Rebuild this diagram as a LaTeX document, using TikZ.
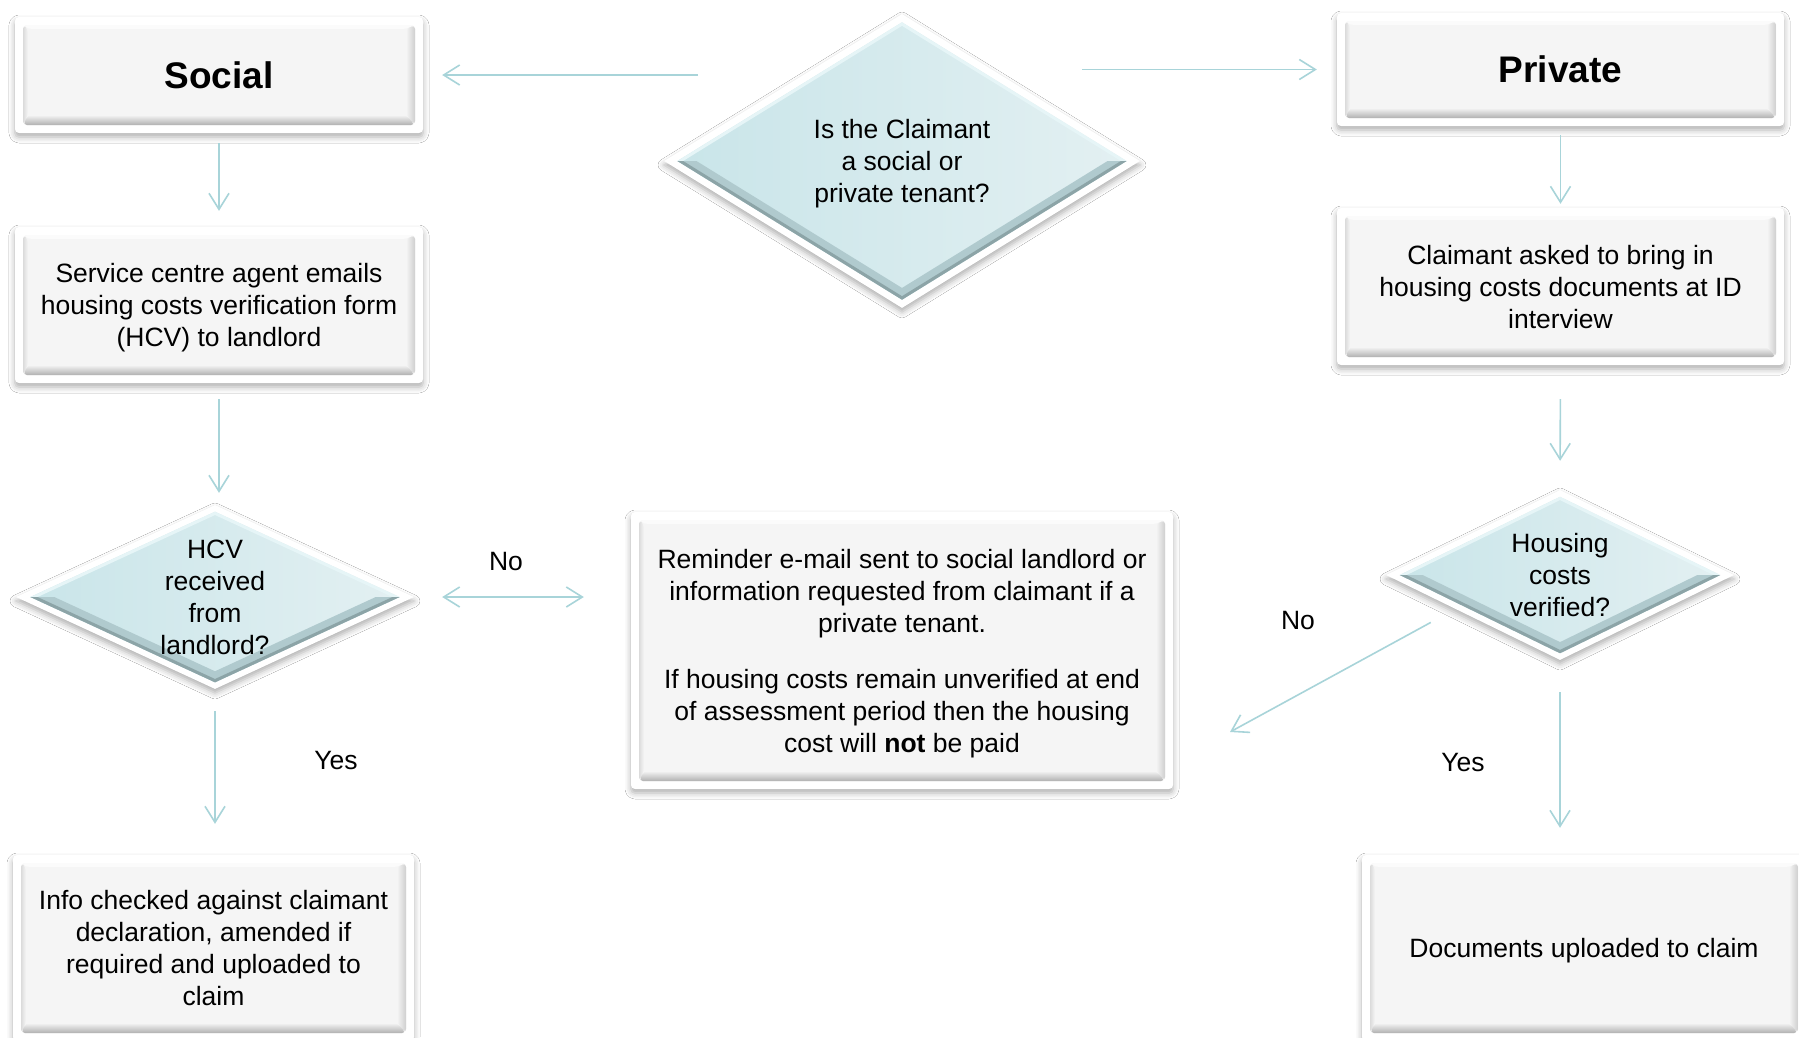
\documentclass[tikz,border=0pt]{standalone}
\usepackage{fontspec}
\setmainfont{Liberation Sans}
\usetikzlibrary{shapes.geometric,arrows.meta,shadows.blur,calc}
\definecolor{boxgray}{HTML}{F5F5F5}
\definecolor{boxtop}{HTML}{FBFBFB}
\definecolor{arrowc}{HTML}{A8D4D9}
\definecolor{diamL}{HTML}{C9E5E9}
\definecolor{diamR}{HTML}{E3F0F2}
\definecolor{bevdark}{HTML}{8CA4A7}
\definecolor{bevmid}{HTML}{B0CACE}
\definecolor{bevlight}{HTML}{E6F5F7}
\def\pp{path picture bounding box}
\tikzset{
  every node/.style={font=\fontsize{26.5}{32}\selectfont, inner sep=0pt, align=center, text=black, text depth=0pt},
  >={Straight Barb[length=16pt,width=20pt]},
  arr/.style={draw=arrowc, line width=1.6pt, ->},
  darr/.style={draw=arrowc, line width=1.6pt, <->},
  gbox/.style={rectangle, rounded corners=4pt, fill=white,
    blur shadow={shadow xshift=0pt, shadow yshift=-4pt, shadow blur radius=6pt, shadow opacity=32},
    path picture={
      \coordinate (bNW) at ([xshift=8pt,yshift=-8pt]\pp.north west);
      \coordinate (bNE) at ([xshift=-8pt,yshift=-8pt]\pp.north east);
      \coordinate (bSW) at ([xshift=8pt,yshift=8pt]\pp.south west);
      \coordinate (bSE) at ([xshift=-8pt,yshift=8pt]\pp.south east);
      \fill[boxgray] (bNW) rectangle (bSE);
      \fill[boxtop] (bNW) -- (bNE) -- ([xshift=-9pt,yshift=-4pt]bNE) -- ([xshift=5pt,yshift=-4pt]bNW) -- cycle;
      \shade[left color=gray!28, right color=boxgray] (bSW) -- (bNW) -- ([xshift=5pt,yshift=-4pt]bNW) -- ([xshift=5pt,yshift=10pt]bSW) -- cycle;
      \shade[left color=boxgray, right color=gray!38] (bSE) -- (bNE) -- ([xshift=-9pt,yshift=-4pt]bNE) -- ([xshift=-9pt,yshift=10pt]bSE) -- cycle;
      \shade[top color=boxgray, bottom color=gray!62] (bSW) -- (bSE) -- ([xshift=-9pt,yshift=10pt]bSE) -- ([xshift=5pt,yshift=10pt]bSW) -- cycle;
    }},
  diam/.style n args={3}{shape=diamond, fill=white,
    blur shadow={shadow xshift=0pt, shadow yshift=-4pt, shadow blur radius=6pt, shadow opacity=32},
    path picture={
      \coordinate (dC) at (\pp.center);
      \coordinate (dN) at ($(dC)!#1!(\pp.north)$);
      \coordinate (dS) at ($(dC)!#1!(\pp.south)$);
      \coordinate (dE) at ($(dC)!#1!(\pp.east)$);
      \coordinate (dW) at ($(dC)!#1!(\pp.west)$);
      \coordinate (tN) at ($(dC)!#3!(\pp.north)$);
      \coordinate (tS) at ($(dC)!#3!(\pp.south)$);
      \coordinate (tE) at ($(dC)!#3!(\pp.east)$);
      \coordinate (tW) at ($(dC)!#3!(\pp.west)$);
      \coordinate (mS) at ($(dC)!#2!(\pp.south)$);
      \coordinate (mE) at ($(dC)!#2!(\pp.east)$);
      \coordinate (mW) at ($(dC)!#2!(\pp.west)$);
      \shade[left color=diamL, right color=diamR] (dN) -- (dE) -- (dS) -- (dW) -- cycle;
      \fill[bevlight] (dW) -- (dN) -- (tN) -- (tW) -- cycle;
      \fill[bevlight] (dE) -- (dN) -- (tN) -- (tE) -- cycle;
      \fill[bevmid] (dW) -- (dS) -- (mS) -- (mW) -- cycle;
      \fill[bevmid] (dE) -- (dS) -- (mS) -- (mE) -- cycle;
      \fill[bevdark] (dW) -- (dS) -- (tS) -- (tW) -- cycle;
      \fill[bevdark] (dE) -- (dS) -- (tS) -- (tE) -- cycle;
    }},
  big/.style={font=\fontsize{37}{44}\selectfont\bfseries}
}
\begin{document}
\begin{tikzpicture}[x=1pt,y=-1pt]
\useasboundingbox (0,0) rectangle (1799,1037);
\clip (0,0) rectangle (1799,1037);
\fill[white] (0,0) rectangle (1799,1037);

% boxes
\node[gbox, big, minimum width=408pt, minimum height=116pt] (social) at (219,75) {Social};
\node[gbox, minimum width=408pt, minimum height=156pt] (service) at (219,305)
  {Service centre agent emails\\housing costs verification form\\(HCV) to landlord};
\node[gbox, big, minimum width=447pt, minimum height=113pt] (private) at (1560.5,69.5) {Private};
\node[gbox, minimum width=447pt, minimum height=157pt] (claimant) at (1560.5,286.5)
  {Claimant asked to bring in\\housing costs documents at ID\\interview};
\node[gbox, minimum width=542pt, minimum height=277pt] (reminder) at (902,650.5)
  {Reminder e-mail sent to social landlord or\\information requested from claimant if a\\private tenant.\\[24pt]If housing costs remain unverified at end\\of assessment period then the housing\\cost will \textbf{not} be paid};
\node[gbox, minimum width=401pt, minimum height=186pt] (info) at (213.5,948)
  {Info checked against claimant\\declaration, amended if\\required and uploaded to\\claim};
\node[gbox, minimum width=444pt, minimum height=186pt] (docs) at (1584,948)
  {Documents uploaded to claim};

% diamonds
\node[diam={0.944}{0.864}{0.920}, minimum width=476pt, minimum height=294pt] (cdiam) at (902,161) {};
\node (cdiamt) at (cdiam.center) {Is the Claimant\\a social or\\private tenant?};
\node[diam={0.928}{0.808}{0.892}, minimum width=398pt, minimum height=184pt] (hcv) at (215,597) {};
\node (hcvt) at (hcv.center) {HCV\\received\\from\\landlord?};
\node[diam={0.921}{0.790}{0.882}, minimum width=348pt, minimum height=170pt] (housing) at (1560,575) {};
\node (housingt) at (housing.center) {Housing\\costs\\verified?};

% labels
\node (no1) at (506,561) {No};
\node (yes1) at (336,760) {Yes};
\node (no2) at (1298,620) {No};
\node (yes2) at (1463,762) {Yes};

% connectors
\coordinate (cl) at (698,75);
\coordinate (cr) at (1082,69.5);
\coordinate (hn) at (1230,732);
\draw[arr, shorten >=19pt] (cl) -- (social.east);
\draw[arr, shorten >=20pt] (cr) -- (private.west);
\draw[arr, shorten <=10pt, shorten >=16pt] (social.south) -- (service.north);
\draw[arr, shorten <=16pt, shorten >=12pt] (service.south) -- (service.south |- hcv.north);
\draw[arr, shorten <=22pt, shorten >=31pt] (hcv.south) -- (hcv.south |- info.north);
\draw[darr, shorten <=28pt, shorten >=47pt] (hcv.east) -- (hcv.east -| reminder.west);
\draw[arr, shorten <=9pt, shorten >=4pt] (private.south) -- (claimant.north);
\draw[arr, shorten <=34pt, shorten >=29pt] (claimant.south) -- (housing.north);
\draw[arr, shorten <=28pt] (housing.198) -- (hn);
\draw[arr, shorten <=32pt, shorten >=27pt] (housing.south) -- (housing.south |- docs.north);
\end{tikzpicture}
\end{document}
